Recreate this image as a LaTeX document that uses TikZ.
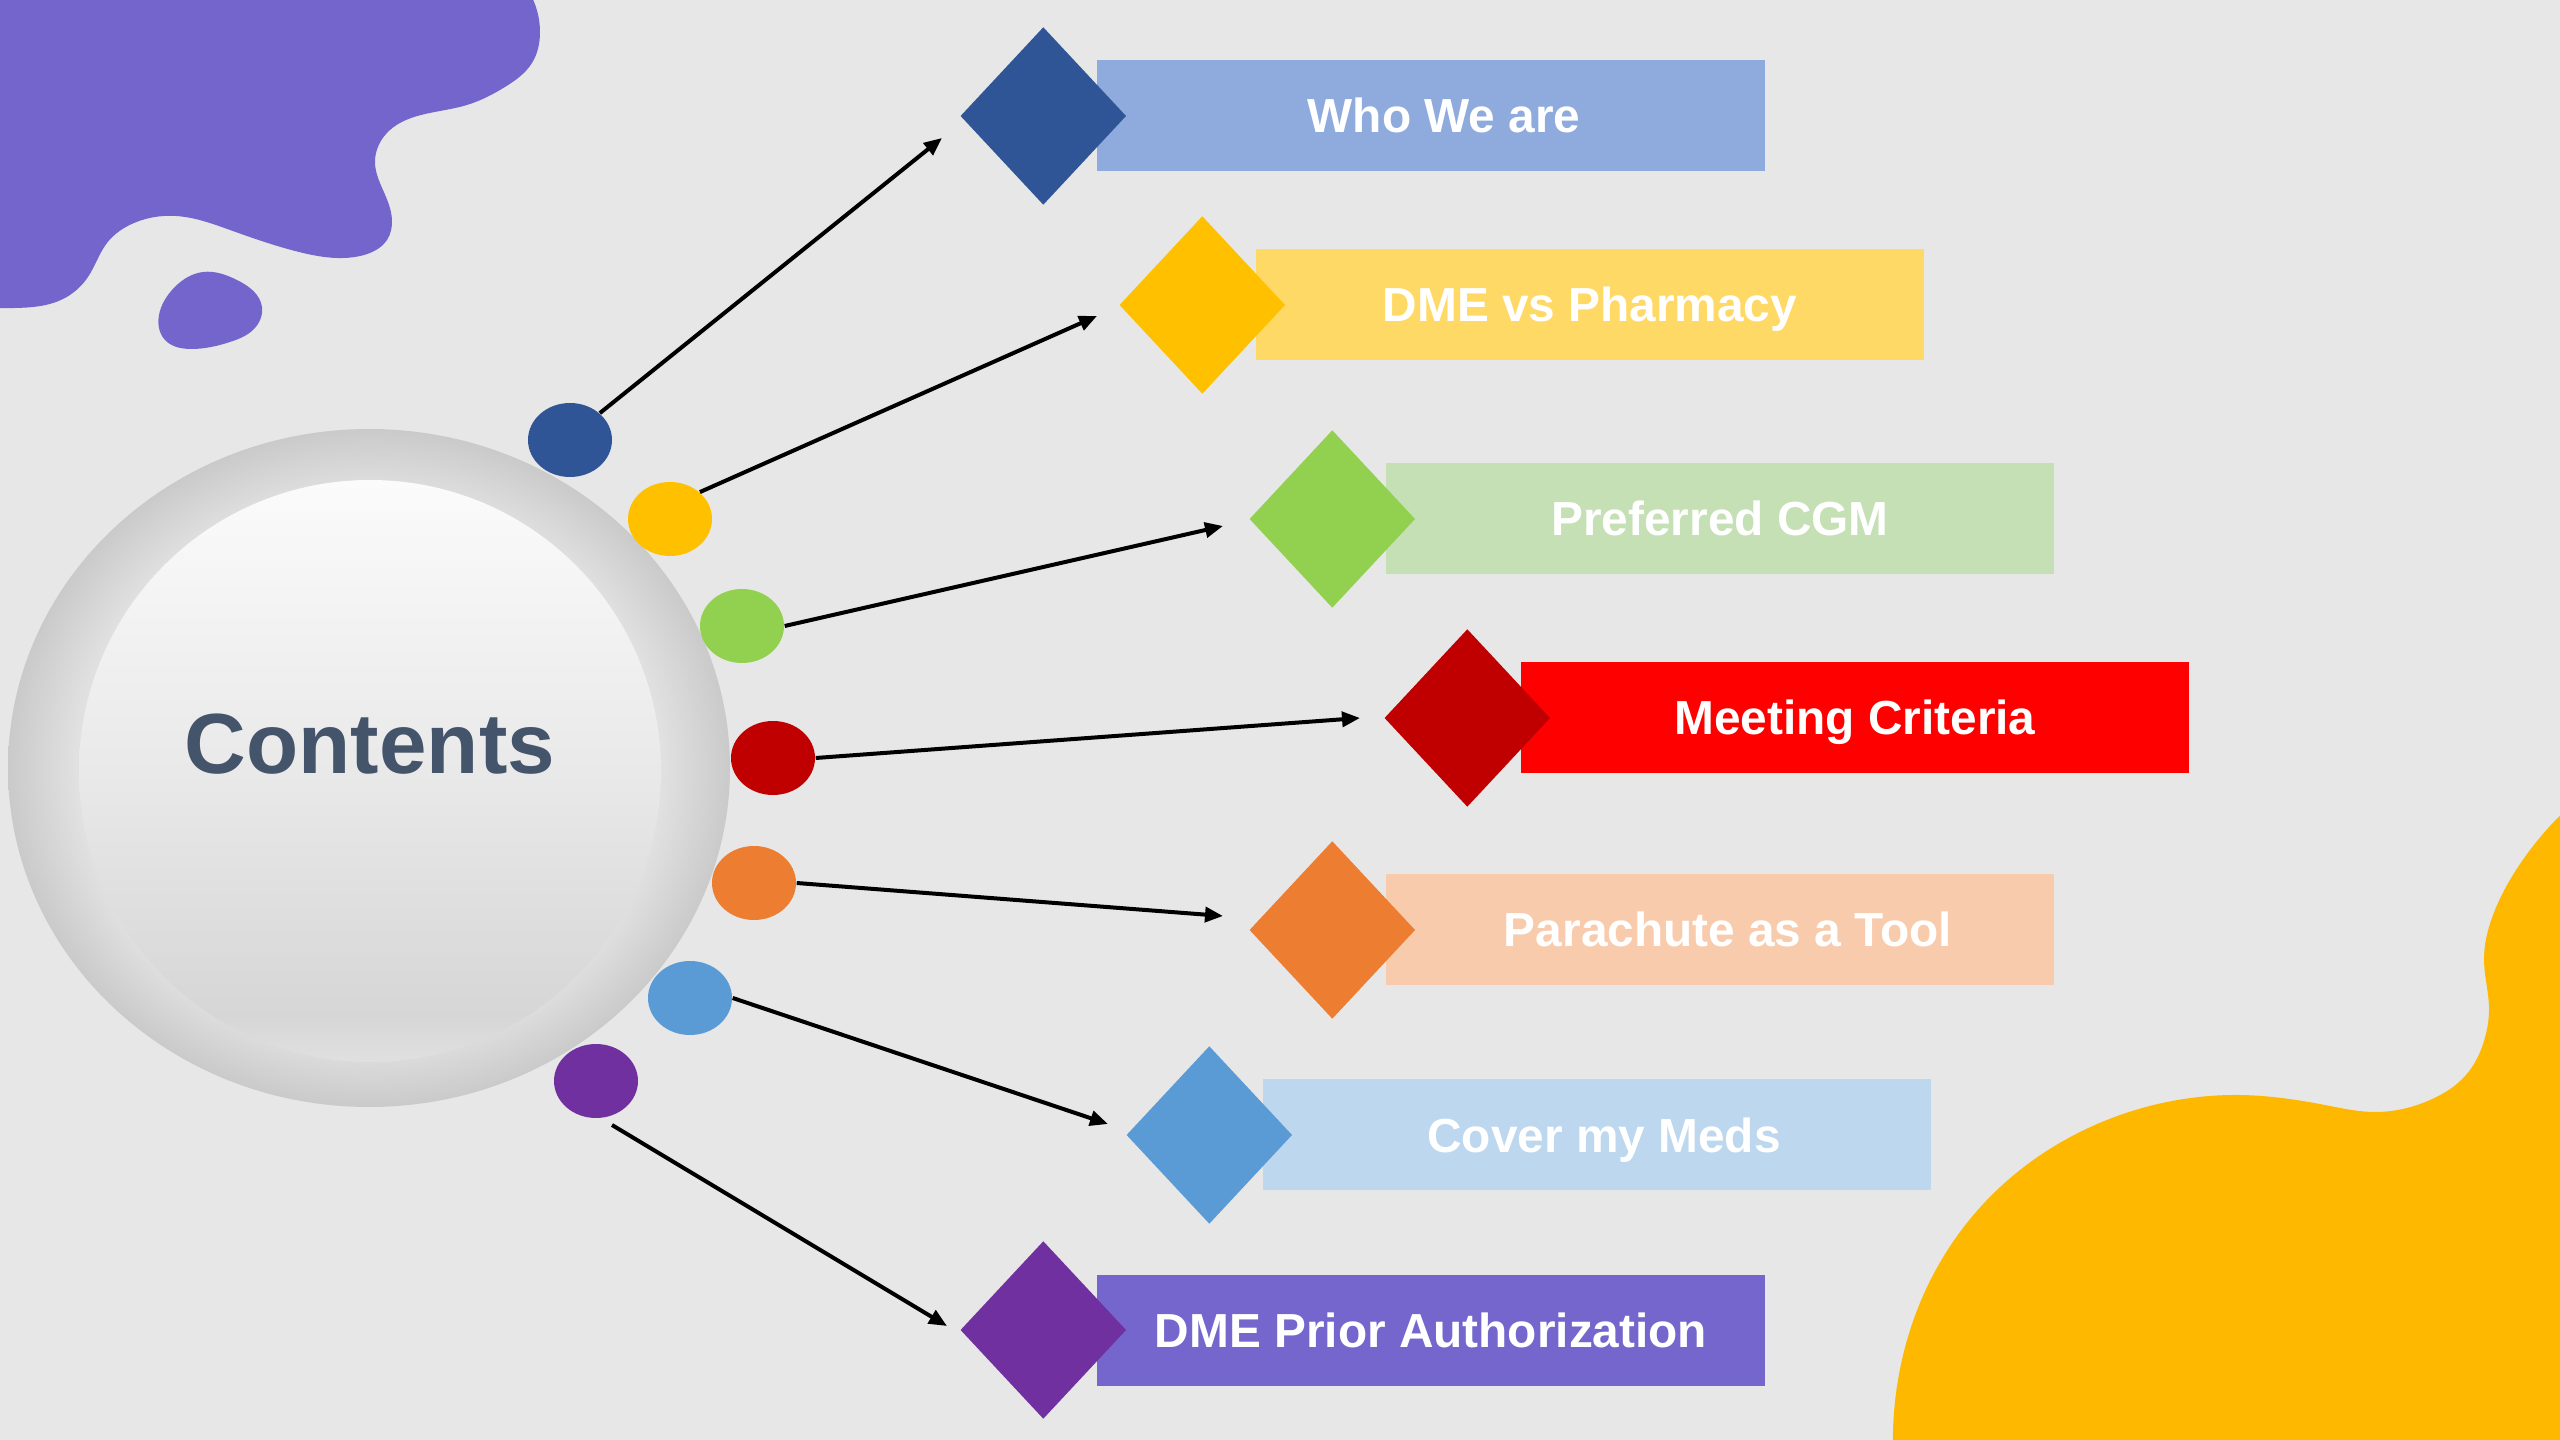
\documentclass[tikz,border=0pt]{standalone}
\usepackage{fontspec}
\setmainfont{Liberation Sans}
\usetikzlibrary{shapes.geometric,arrows.meta,hobby}
\pgfdeclarelayer{background}
\pgfsetlayers{background,main}

\definecolor{paper}{HTML}{E7E7E7}
\definecolor{blobpurple}{HTML}{7365CB}
\definecolor{bloborange}{HTML}{FFB800}
\definecolor{hubtext}{HTML}{44546A}
\definecolor{ringlite}{HTML}{E2E2E2}
\definecolor{ringdark}{HTML}{CACACA}
\definecolor{dometop}{HTML}{FBFBFB}
\definecolor{domemid}{HTML}{E9E9E9}
\definecolor{domebot}{HTML}{D6D6D6}
\definecolor{domelow}{HTML}{E0E0E0}
% bar / gem pairs
\definecolor{whobar}{HTML}{8FAADC}
\definecolor{whogem}{HTML}{2F5597}
\definecolor{dmebar}{HTML}{FFD966}
\definecolor{dmegem}{HTML}{FFC000}
\definecolor{cgmbar}{HTML}{C5E0B4}
\definecolor{cgmgem}{HTML}{92D050}
\definecolor{meetbar}{HTML}{FF0000}
\definecolor{meetgem}{HTML}{C00000}
\definecolor{chutebar}{HTML}{F8CBAD}
\definecolor{chutegem}{HTML}{ED7D31}
\definecolor{coverbar}{HTML}{BDD7EE}
\definecolor{covergem}{HTML}{5B9BD5}
\definecolor{priorbar}{HTML}{7466CC}
\definecolor{priorgem}{HTML}{7030A0}

% the path box maps onto 25bp..75bp of these shadings
\pgfdeclareradialshading{ringshade}{\pgfpoint{0bp}{0bp}}{color(0bp)=(ringlite); color(20bp)=(ringlite); color(25bp)=(ringdark); color(50bp)=(ringdark)}
\pgfdeclareverticalshading{domeshade}{100bp}{color(0bp)=(domelow); color(25bp)=(domelow); color(29bp)=(domebot); color(50bp)=(domemid); color(75bp)=(dometop); color(100bp)=(dometop)}

\newcommand\barfont{\fontsize{13.6pt}{16pt}\selectfont\bfseries}
\newcommand\hubfont{\fontsize{24.3pt}{29pt}\selectfont\bfseries}

\tikzstyle{bar}=[rectangle,minimum width=66.8mm,minimum height=11.1mm,inner sep=0,text=white,font=\barfont,text height=3.4mm,text depth=0pt]
\tikzstyle{gem}=[diamond,minimum width=16.6mm,minimum height=17.8mm,inner sep=0]
\tikzstyle{bead}=[ellipse,minimum width=8.4mm,minimum height=7.4mm,inner sep=0]
\tikzstyle{connect arrow}=[-{Triangle[length=1.8mm,width=1.5mm]},line width=0.4mm,black]

\begin{document}
\begin{tikzpicture}[x=0.1mm,y=-0.1mm]
\useasboundingbox (0,0) rectangle (2560,1440);
\clip (0,0) rectangle (2560,1440);

% paper and corner blobs
\begin{pgfonlayer}{background}
    \fill[paper] (0,0) rectangle (2560,1440);
    \fill[blobpurple] (0,-10) -- (528,-10) to[curve through={(540,33) .. (532,63) .. (505,87) .. (467,105) .. (421,115) .. (390,130) .. (375,163) .. (383,190) .. (392,220) .. (387,240) .. (364,255) .. (337,258) .. (299,252) .. (230,230) .. (176,216) .. (134,223) .. (107,243) .. (88,277) .. (61,300) .. (15,308)}] (-10,308) -- cycle;
    \fill[blobpurple] (203,272) to[closed,curve through={(237,280) .. (262,307) .. (253,330) .. (230,342) .. (191,349) .. (165,340) .. (159,315) .. (172,290)}] (203,272);
    \fill[bloborange] (2570,806) to[curve through={(2520,864) .. (2493,915) .. (2484,961) .. (2489,1007) .. (2484,1041) .. (2466,1075) .. (2430,1100) .. (2375,1112) .. (2325,1105) .. (2239,1095) .. (2167,1102) .. (2076,1134) .. (1986,1201) .. (1932,1277) .. (1900,1369)}] (1893,1450) -- (2570,1450) -- cycle;
\end{pgfonlayer}

% hub
\node [ellipse,minimum width=72.2mm,minimum height=67.8mm,inner sep=0,shading=ringshade] (ring) at (369,768) {};
\node [circle,minimum size=58.2mm,inner sep=0,shading=domeshade] (hub) at (370,771) {};
\node [text=hubtext,font=\hubfont] (title) at ([yshift=2.7mm]hub.center) {Contents};

% beads round the hub
\node [bead,fill=whogem] (c1) at (570,440) {};
\node [bead,fill=dmegem] (c2) at (670,519) {};
\node [bead,fill=cgmgem] (c3) at (742,626) {};
\node [bead,fill=meetgem] (c4) at (773,758) {};
\node [bead,fill=chutegem] (c5) at (754,883) {};
\node [bead,fill=covergem] (c6) at (690,998) {};
\node [bead,fill=priorgem] (c7) at (596,1081) {};

% topics
\node [bar,fill=whobar] (r1) at (1431,116) {\hspace*{2.6mm}Who We are};
\node [bar,fill=dmebar] (r2) at (1590,305) {DME vs Pharmacy};
\node [bar,fill=cgmbar] (r3) at (1720,519) {Preferred CGM};
\node [bar,fill=meetbar] (r4) at (1855,718) {Meeting Criteria};
\node [bar,fill=chutebar] (r5) at (1720,930) {\hspace*{1.6mm}Parachute as a Tool};
\node [bar,fill=coverbar] (r6) at (1597,1135) {\hspace*{1.4mm}Cover my Meds};
\node [bar,fill=priorbar] (r7) at (1431,1330) {DME Prior Authorization};

\node [gem,fill=whogem] (d1) at ([xshift=-5.3mm]r1.west) {};
\node [gem,fill=dmegem] (d2) at ([xshift=-5.3mm]r2.west) {};
\node [gem,fill=cgmgem] (d3) at ([xshift=-5.3mm]r3.west) {};
\node [gem,fill=meetgem] (d4) at ([xshift=-5.3mm]r4.west) {};
\node [gem,fill=chutegem] (d5) at ([xshift=-5.3mm]r5.west) {};
\node [gem,fill=covergem] (d6) at ([xshift=-5.3mm]r6.west) {};
\node [gem,fill=priorgem] (d7) at ([xshift=-5.3mm]r7.west) {};

% arrow tips stop short of the gems
\coordinate (e1) at (942,138);
\coordinate (e2) at (1097,316);
\coordinate (e3) at (1223,526);
\coordinate (e4) at (1360,718);
\coordinate (e5) at (1223,916);
\coordinate (e6) at (1108,1124);
\coordinate (e7) at (947,1326);
\coordinate (s7) at (612,1125);

\begin{scope}[connect arrow]
    \draw (c1.42) -- (e1);
    \draw (c2.42) -- (e2);
    \draw (c3.0) -- (e3);
    \draw (c4.0) -- (e4);
    \draw (c5.0) -- (e5);
    \draw (c6.0) -- (e6);
    \draw (s7) -- (e7);
\end{scope}

\end{tikzpicture}
\end{document}
